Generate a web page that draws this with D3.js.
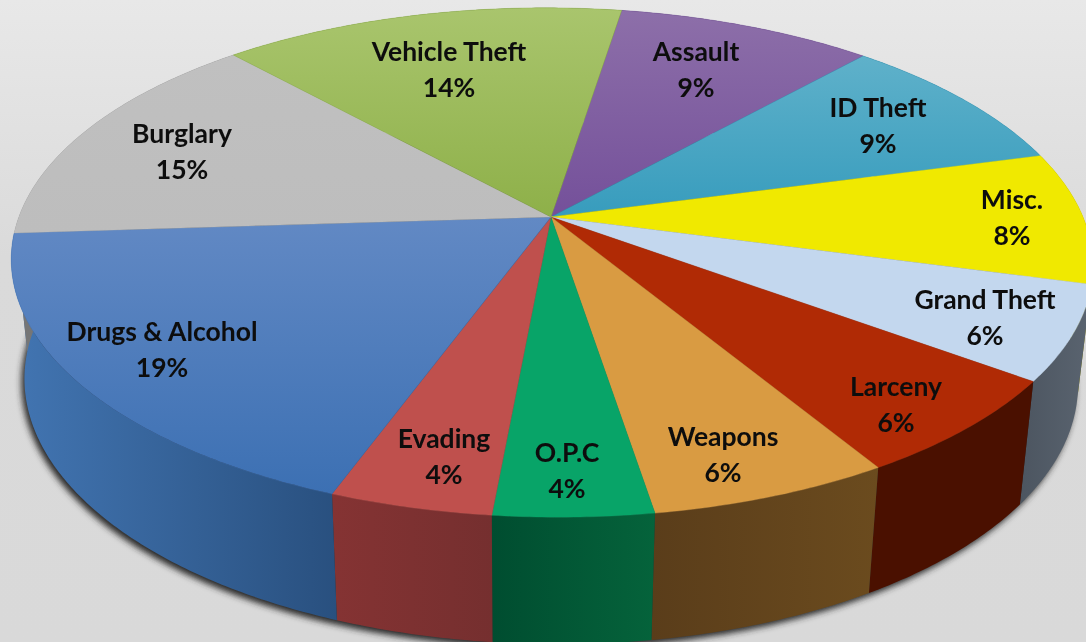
<!DOCTYPE html>
<html>
<head>
<meta charset="utf-8">
<script src="https://d3js.org/d3.v7.min.js"></script>
<style>
html, body { margin: 0; padding: 0; background: #dcdcdc; overflow: hidden; }
svg { display: block; }
text { font-family: Lato, "Open Sans", sans-serif; font-weight: 700; font-size: 26.5px; fill: #0c0c0c; text-anchor: middle; }
</style>
</head>
<body>
<div id="chart"></div>
<script>
// clockwise from the Vehicle Theft / Assault border
var categories = ["Assault", "ID Theft", "Misc.", "Grand Theft", "Larceny", "Weapons", "O.P.C", "Evading", "Drugs & Alcohol", "Burglary", "Vehicle Theft"];
var percentLabels = ["9%", "9%", "8%", "6%", "6%", "6%", "4%", "4%", "19%", "15%", "14%"];
// slice sizes, the printed labels don't quite agree with them
var sliceShares = [9.06, 9.06, 8.39, 5.97, 6.31, 6.14, 4.03, 4.11, 18.22, 14.39, 14.32];

var topStart = ["#8d6fa9", "#5fb1ca", "#f0e900", "#c3d7ee", "#b02a05", "#d99b42", "#08a468", "#bf504d", "#6289c4", "#c0c0c0", "#a9c56d"];
var topEnd = ["#74509a", "#379cbd", "#f0e900", "#c3d7ee", "#b02a05", "#d99b42", "#08a468", "#bf504d", "#3c70b3", "#bdbdbd", "#8eb049"];
var wallStart = ["#5f4878", "#2f7f99", "#8f8a00", "#5a6470", "#4a1000", "#6b4b1e", "#05633b", "#853333", "#4275b2", "#777", "#6f8a3a"];
var wallEnd = ["#4f3b66", "#276b80", "#807c00", "#4c5560", "#4a1000", "#5a3d1a", "#004d30", "#752f2f", "#29507f", "#666", "#5f7732"];

// label spots are hand placed, like the data labels on the original
var labelX = [696, 878, 1012, 985, 896, 723, 567, 444, 162, 182, 449];
var labelY = [52, 108, 200, 300, 387, 437, 453, 439, 332, 134, 52];

var width = 1086, height = 642;

// flat unit circle to screen, with a bit of perspective and tilt
function project(u, v) {
    var w = 1 - 0.1786 * v - 0.006 * u;
    return [551 + (532 * u - 12 * v) / w, 217 + (246.4 * v + 8.5 * u) / w];
}
function rim(a) {
    return project(Math.sin(a), -Math.cos(a));
}
function lowerRim(a) {
    var p = rim(a);
    return [p[0] * 0.974 + 13.5, p[1] * 1.03 + 111.5];
}
function arcPoints(fn, a0, a1) {
    var n = Math.max(2, Math.ceil((a1 - a0) / 0.01));
    return d3.range(n + 1).map(function(i) {
        return fn(a0 + (a1 - a0) * i / n);
    });
}

var line = d3.line();
var pie = d3.pie().sort(null).value(function(d) { return d; })
    .startAngle(7.7 * Math.PI / 180)
    .endAngle(7.7 * Math.PI / 180 + 2 * Math.PI);
var slices = pie(sliceShares);

var svg = d3.select("#chart").append("svg")
    .attr("width", width)
    .attr("height", height);
var defs = svg.append("defs");

var bg = defs.append("linearGradient").attr("id", "bg").attr("x1", 0).attr("y1", 0).attr("x2", 0).attr("y2", 1);
bg.append("stop").attr("offset", 0).attr("stop-color", "#e8e8e8");
bg.append("stop").attr("offset", 0.4).attr("stop-color", "#dadada");
bg.append("stop").attr("offset", 1).attr("stop-color", "#d9d9d9");

defs.append("filter").attr("id", "shadow").attr("x", "-5%").attr("y", "-5%").attr("width", "110%").attr("height", "110%")
    .append("feGaussianBlur").attr("stdDeviation", 3);
defs.append("filter").attr("id", "soft")
    .append("feGaussianBlur").attr("stdDeviation", 0.45);

slices.forEach(function(d, i) {
    var g = defs.append("linearGradient").attr("id", "top" + i).attr("x1", 0).attr("y1", 0).attr("x2", 0).attr("y2", 1);
    g.append("stop").attr("offset", 0).attr("stop-color", topStart[i]);
    g.append("stop").attr("offset", 1).attr("stop-color", topEnd[i]);
    var s = defs.append("linearGradient").attr("id", "wall" + i).attr("x1", 0).attr("y1", 0).attr("x2", 1).attr("y2", 0);
    // walls get darker towards the lower end of the slice, left side runs the other way
    s.append("stop").attr("offset", 0).attr("stop-color", d.startAngle > Math.PI ? wallStart[i] : wallEnd[i]);
    s.append("stop").attr("offset", 1).attr("stop-color", d.startAngle > Math.PI ? wallEnd[i] : wallStart[i]);
});

svg.append("rect").attr("width", width).attr("height", height).attr("fill", "url(#bg)");

// shadow under the lower rim
svg.append("path")
    .attr("d", line(arcPoints(lowerRim, 0, 2 * Math.PI)) + "Z")
    .attr("transform", "translate(-3,4)")
    .attr("fill", "#2a2a2a")
    .attr("filter", "url(#shadow)");

// side walls
svg.selectAll(".wall")
    .data(slices)
    .enter().append("path")
    .attr("class", "wall")
    .attr("d", function(d) {
        var upper = arcPoints(rim, d.startAngle, d.endAngle);
        var lower = arcPoints(lowerRim, d.startAngle, d.endAngle).reverse();
        return line(upper.concat(lower)) + "Z";
    })
    .attr("fill", function(d, i) { return "url(#wall" + i + ")"; });

// top face
svg.selectAll(".slice")
    .data(slices)
    .enter().append("path")
    .attr("class", "slice")
    .attr("d", function(d) {
        return line([project(0, 0)].concat(arcPoints(rim, d.startAngle, d.endAngle))) + "Z";
    })
    .attr("fill", function(d, i) { return "url(#top" + i + ")"; })
    .attr("stroke", function(d, i) { return topEnd[i]; })
    .attr("stroke-width", 0.4);

var labels = svg.selectAll(".label")
    .data(categories)
    .enter().append("g")
    .attr("class", "label")
    .attr("filter", "url(#soft)");

labels.append("text")
    .attr("x", function(d, i) { return labelX[i]; })
    .attr("y", function(d, i) { return labelY[i]; })
    .attr("dy", ".35em")
    .text(function(d) { return d; });

labels.append("text")
    .attr("x", function(d, i) { return labelX[i]; })
    .attr("y", function(d, i) { return labelY[i] + 36; })
    .attr("dy", ".35em")
    .text(function(d, i) { return percentLabels[i]; });
</script>
</body>
</html>
